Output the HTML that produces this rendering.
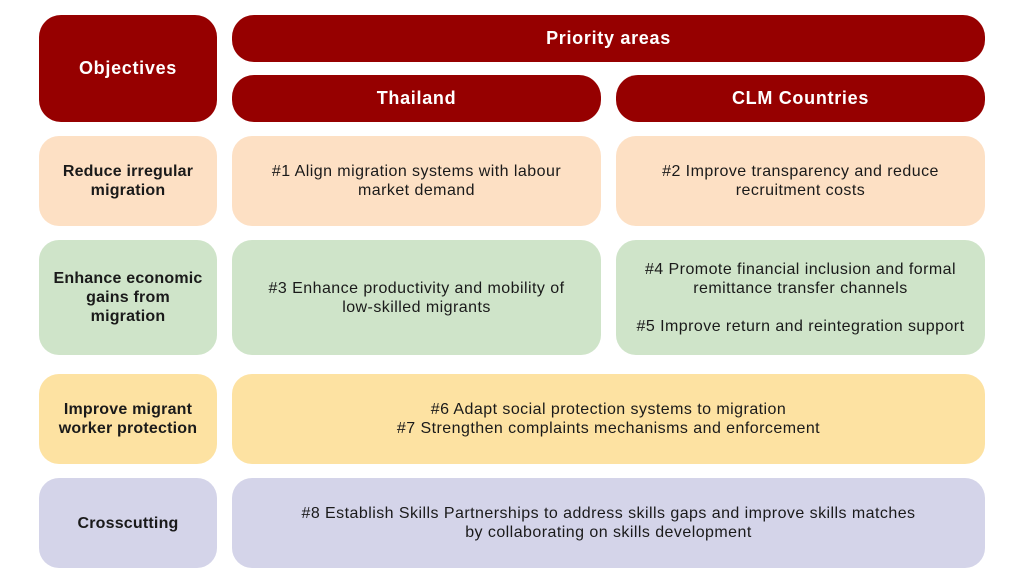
<!DOCTYPE html>
<html><head><meta charset="utf-8"><style>
body{margin:0;width:1024px;height:587px;background:#fff;position:relative;font-family:"Liberation Sans",sans-serif;overflow:hidden}
.b{position:absolute;border-radius:20px;display:flex;align-items:center;justify-content:center;text-align:center;font-size:16px;letter-spacing:0.45px;line-height:19px;color:#1a1a1a;box-sizing:border-box;padding:0 6px}
.r{background:#960000;color:#fff;font-weight:bold;font-size:18px;letter-spacing:0.7px;border-radius:22px}
.p{background:#fde0c4}.g{background:#cfe4c9}.y{background:#fde2a2}.l{background:#d4d4e9}
.h{font-weight:bold;letter-spacing:0.2px}
</style></head><body>
<div class="b r" style="left:39px;top:15px;width:178px;height:107px">Objectives</div>
<div class="b r" style="left:232px;top:15px;width:753px;height:47px">Priority areas</div>
<div class="b r" style="left:232px;top:75px;width:369px;height:47px">Thailand</div>
<div class="b r" style="left:616px;top:75px;width:369px;height:47px">CLM Countries</div>

<div class="b p h" style="left:39px;top:136px;width:178px;height:90px">Reduce irregular<br>migration</div>
<div class="b p" style="left:232px;top:136px;width:369px;height:90px">#1 Align migration systems with labour<br>market demand</div>
<div class="b p" style="left:616px;top:136px;width:369px;height:90px">#2 Improve transparency and reduce<br>recruitment costs</div>

<div class="b g h" style="left:39px;top:240px;width:178px;height:115px">Enhance economic<br>gains from<br>migration</div>
<div class="b g" style="left:232px;top:240px;width:369px;height:115px">#3 Enhance productivity and mobility of<br>low-skilled migrants</div>
<div class="b g" style="left:616px;top:240px;width:369px;height:115px">#4 Promote financial inclusion and formal<br>remittance transfer channels<br><br>#5 Improve return and reintegration support</div>

<div class="b y h" style="left:39px;top:374px;width:178px;height:90px">Improve migrant<br>worker protection</div>
<div class="b y" style="left:232px;top:374px;width:753px;height:90px">#6 Adapt social protection systems to migration<br>#7 Strengthen complaints mechanisms and enforcement</div>

<div class="b l h" style="left:39px;top:478px;width:178px;height:90px">Crosscutting</div>
<div class="b l" style="left:232px;top:478px;width:753px;height:90px">#8 Establish Skills Partnerships to address skills gaps and improve skills matches<br>by collaborating on skills development</div>
</body></html>
